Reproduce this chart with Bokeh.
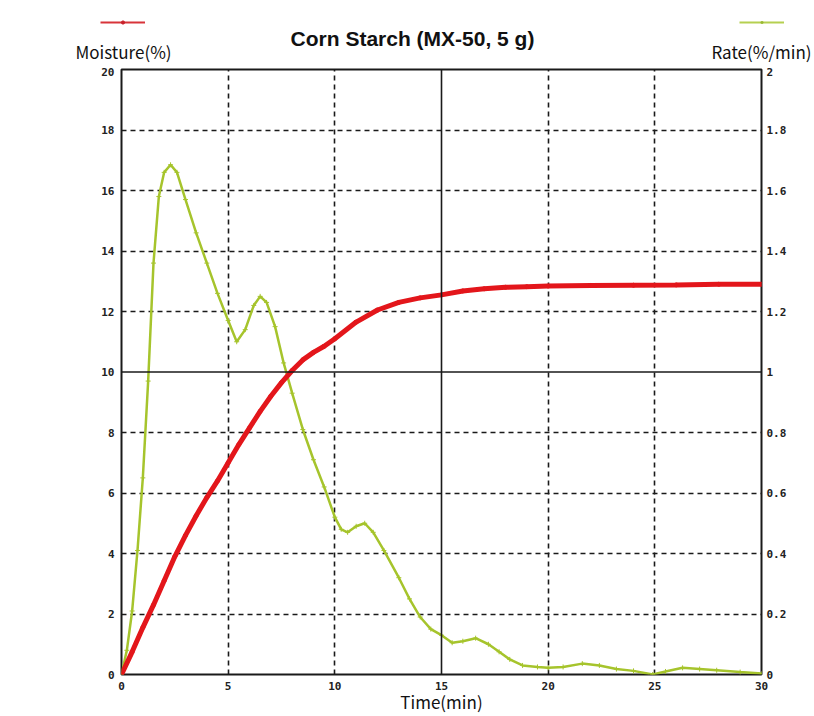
from bokeh.plotting import figure
from bokeh.layouts import column
from bokeh.models import (Range1d, LinearAxis, FixedTicker, Span, Label, Legend,
                          LegendItem, CustomJSTickFormatter)
from bokeh.embed import file_html
from bokeh.resources import INLINE

# ---- data ----
time_moist = [0, 0.5, 1, 1.5, 2, 2.5, 3, 3.5, 4, 4.5, 5, 5.5, 6, 6.5, 7, 7.5, 8, 8.5, 9, 9.5,
              10, 11, 12, 13, 14, 15, 16, 17, 18, 19, 20, 22, 24, 26, 28, 30]
moisture = [0, 0.75, 1.55, 2.3, 3.1, 3.9, 4.6, 5.25, 5.85, 6.4, 7.0, 7.6, 8.15, 8.7, 9.2, 9.65,
            10.05, 10.4, 10.65, 10.85, 11.1, 11.65, 12.05, 12.3, 12.45, 12.55, 12.68, 12.75,
            12.8, 12.82, 12.84, 12.86, 12.87, 12.88, 12.9, 12.9]

time_rate = [0, 0.25, 0.5, 0.75, 1.0, 1.25, 1.5, 1.75, 2.0, 2.3, 2.6, 3.0, 3.5, 4.0, 4.5, 5.0,
             5.4, 5.8, 6.2, 6.5, 6.8, 7.2, 7.6, 8.0, 8.5, 9.0, 9.5, 10.0, 10.3, 10.6, 11.0,
             11.4, 11.8, 12.3, 13.0, 13.5, 14.0, 14.5, 15.0, 15.5, 16.0, 16.6, 17.2, 17.7,
             18.2, 18.8, 19.5, 20.0, 20.7, 21.6, 22.4, 23.2, 24.0, 24.9, 25.5, 26.3, 27.1,
             27.9, 29.0, 30.0]
rate = [0, 0.08, 0.21, 0.41, 0.65, 0.97, 1.36, 1.58, 1.66, 1.685, 1.66, 1.57, 1.46, 1.36,
        1.26, 1.17, 1.10, 1.14, 1.22, 1.25, 1.23, 1.15, 1.03, 0.93, 0.81, 0.71, 0.62, 0.52,
        0.48, 0.47, 0.49, 0.50, 0.47, 0.41, 0.32, 0.25, 0.19, 0.15, 0.13, 0.105, 0.11, 0.12,
        0.10, 0.075, 0.05, 0.03, 0.025, 0.022, 0.025, 0.036, 0.03, 0.018, 0.012, 0.0, 0.01,
        0.022, 0.018, 0.014, 0.008, 0.003]

x_ticks = [0, 5, 10, 15, 20, 25, 30]
moist_ticks = [0, 2, 4, 6, 8, 10, 12, 14, 16, 18, 20]
rate_ticks = [0, 0.2, 0.4, 0.6, 0.8, 1.0, 1.2, 1.4, 1.6, 1.8, 2.0]
x_dash_grid = [5, 10, 20, 25]
y_dash_grid = [2, 4, 6, 8, 12, 14, 16, 18]

title_text = "Corn Starch (MX-50, 5 g)"
left_label = "Moisture(%)"
right_label = "Rate(%/min)"
x_label = "Time(min)"

RED = "#e3161b"
GREEN = "#a6c42c"
INK = "#1a1a1a"
TICK_FONT = "DejaVu Sans Mono"
JP_FONT = "Noto Sans CJK JP"

W = 814
HEAD_H = 67

# =================== header strip (title, axis names, series keys) ===================
head = figure(width=W, height=HEAD_H, x_range=Range1d(0, W), y_range=Range1d(HEAD_H, 0),
              x_axis_type=None, y_axis_type=None, output_backend="svg",
              toolbar_location=None, min_border=0, frame_align=False)
head.outline_line_color = None
head.background_fill_color = "white"
head.border_fill_color = "white"
head.extra_y_ranges = {"off": Range1d(-200, -100)}   # keeps the key renderers out of view

k_moist_line = head.line(time_moist, moisture, y_range_name="off", line_color="#d8343a",
                         line_width=2)
k_moist_pts = head.scatter(time_moist, moisture, y_range_name="off", marker="circle",
                           size=4, fill_color="#c8202a", line_color="#c8202a")
k_rate_line = head.line(time_rate, rate, y_range_name="off", line_color="#b5d050",
                        line_width=2)
k_rate_pts = head.scatter(time_rate, rate, y_range_name="off", marker="cross", size=6,
                          line_color="#9ab832", line_width=1.5)

keys = Legend(items=[LegendItem(label=" ", renderers=[k_moist_line, k_moist_pts]),
                     LegendItem(label=" ", renderers=[k_rate_line, k_rate_pts])],
              orientation="horizontal", location=(100, 41),
              glyph_width=45, glyph_height=8, label_standoff=0, label_width=0,
              label_height=8, spacing=594, padding=0, margin=0,
              label_text_font_size="1px",
              border_line_color=None, background_fill_alpha=0)
head.add_layout(keys, "center")

head.add_layout(Label(x=412, y=38, text=title_text, text_align="center",
                      text_baseline="alphabetic", text_font="Liberation Sans",
                      text_font_style="bold", text_font_size="21px", text_color="#111111"))
head.add_layout(Label(x=123, y=50.5, text=left_label, text_align="center",
                      text_baseline="alphabetic", text_font=JP_FONT,
                      text_font_size="17px", text_color="#111111"))
head.add_layout(Label(x=761, y=51, text=right_label, text_align="center",
                      text_baseline="alphabetic", text_font=JP_FONT,
                      text_font_size="17px", text_color="#111111"))

# =================== main chart ===================
p = figure(width=W, height=716 - HEAD_H, x_range=Range1d(0, 30), y_range=Range1d(0, 20),
           output_backend="svg", toolbar_location=None, frame_align=False,
           min_border_left=121, min_border_right=53, min_border_top=2, min_border_bottom=40)
p.extra_y_ranges = {"rate": Range1d(0, 2)}
p.background_fill_color = "white"
p.border_fill_color = "white"
p.outline_line_color = INK
p.outline_line_width = 2

# grids
p.xgrid.ticker = FixedTicker(ticks=x_dash_grid)
p.ygrid.ticker = FixedTicker(ticks=y_dash_grid)
for g in (p.xgrid, p.ygrid):
    g.grid_line_color = INK
    g.grid_line_dash = "5 4"
    g.grid_line_width = 1.6
p.add_layout(Span(location=15, dimension="height", line_color=INK, line_width=1.6))
p.add_layout(Span(location=10, dimension="width", line_color=INK, line_width=1.6))

# axes
def style_axis(ax):
    ax.major_tick_out = 0
    ax.major_tick_in = 0
    ax.minor_tick_out = 0
    ax.minor_tick_in = 0
    ax.axis_line_color = None
    ax.major_label_text_font = TICK_FONT
    ax.major_label_text_font_style = "bold"
    ax.major_label_text_font_size = "11px"
    ax.major_label_text_color = "#222222"

p.xaxis.ticker = FixedTicker(ticks=x_ticks)
p.yaxis.ticker = FixedTicker(ticks=moist_ticks)
style_axis(p.xaxis[0])
style_axis(p.yaxis[0])
p.yaxis.major_label_standoff = 7
p.xaxis.major_label_standoff = 7
p.xaxis.axis_label = x_label
p.xaxis.axis_label_text_font = JP_FONT
p.xaxis.axis_label_text_font_style = "normal"
p.xaxis.axis_label_text_font_size = "17px"
p.xaxis.axis_label_text_line_height = 1.0
p.xaxis.axis_label_standoff = -4
p.xaxis.axis_label_text_color = "#111111"

right = LinearAxis(y_range_name="rate", ticker=FixedTicker(ticks=rate_ticks),
                   formatter=CustomJSTickFormatter(code="return String(Math.round(tick*10)/10);"))
style_axis(right)
right.major_label_standoff = 5
p.add_layout(right, "right")

# series
p.line(time_rate, rate, y_range_name="rate", line_color=GREEN, line_width=2.5)
p.scatter(time_rate, rate, y_range_name="rate", marker="cross", size=5,
          line_color=GREEN, line_width=1)
p.line(time_moist, moisture, line_color=RED, line_width=5)
p.scatter(time_moist, moisture, marker="circle", size=4, fill_color=RED, line_color=RED)

layout = column(head, p, spacing=0)
open("out.html", "w").write(file_html(layout, INLINE))
